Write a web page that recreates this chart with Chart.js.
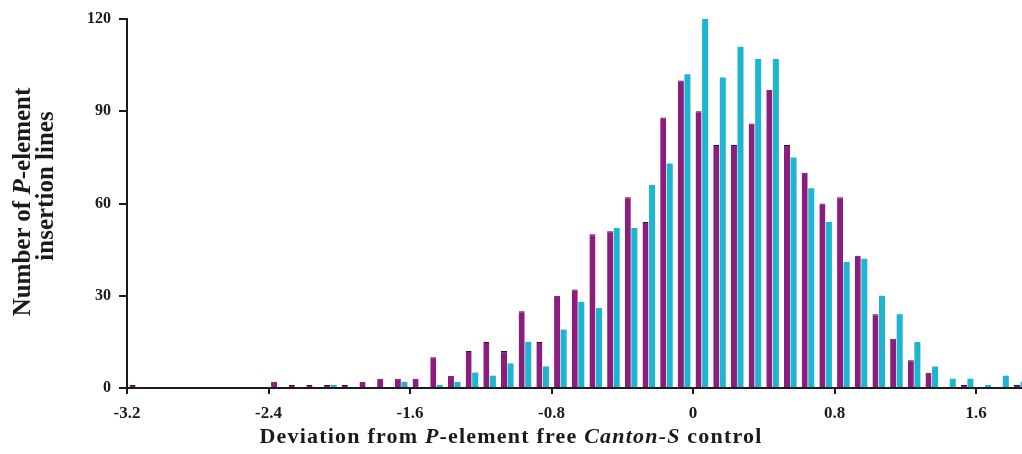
<!DOCTYPE html>
<html>
<head>
<meta charset="utf-8">
<script src="https://cdn.jsdelivr.net/npm/chart.js@4.4.1/dist/chart.umd.min.js"></script>
<style>
    html, body { margin: 0; padding: 0; background: #fff; }
    #wrap { position: relative; width: 1022px; height: 454px; overflow: hidden; }
    .ttl {
        position: absolute;
        font-family: "Liberation Serif", "Times New Roman", serif;
        font-weight: bold;
        color: #1a1a1a;
        white-space: nowrap;
    }
    #xTitle { left: 0; width: 1022px; top: 423px; text-align: center; font-size: 22px; letter-spacing: 1.2px; }
    .yLine { transform: translate(-50%, -50%) rotate(-90deg); font-size: 25px; }
    #yLine1 { left: 22px; top: 202px; }
    #yLine2 { left: 45px; top: 186px; }
</style>
</head>
<body>
<div id="wrap">
    <canvas id="histChart" width="1022" height="454"></canvas>
    <div class="ttl" id="xTitle">Deviation from <i>P</i>-element free <i>Canton-S</i> control</div>
    <div class="ttl yLine" id="yLine1">Number of <i>P</i>-element</div>
    <div class="ttl yLine" id="yLine2">insertion lines</div>
</div>

<script>
// bin centres (deviation), 0.1 wide
const binCenters = [
    -3.15, -3.05, -2.95, -2.85, -2.75, -2.65, -2.55, -2.45, -2.35, -2.25,
    -2.15, -2.05, -1.95, -1.85, -1.75, -1.65, -1.55, -1.45, -1.35, -1.25,
    -1.15, -1.05, -0.95, -0.85, -0.75, -0.65, -0.55, -0.45, -0.35, -0.25,
    -0.15, -0.05, 0.05, 0.15, 0.25, 0.35, 0.45, 0.55, 0.65, 0.75,
    0.85, 0.95, 1.05, 1.15, 1.25, 1.35, 1.45, 1.55, 1.65, 1.75,
    1.85
];

const purpleCounts = [
    1, 0, 0, 0, 0, 0, 0, 0, 2, 1,
    1, 1, 1, 2, 3, 3, 3, 10, 4, 12,
    15, 12, 25, 15, 30, 32, 50, 51, 62, 54,
    88, 100, 90, 79, 79, 86, 97, 79, 70, 60,
    62, 43, 24, 16, 9, 5, 0, 1, 0, 0,
    1
];

const cyanCounts = [
    0, 0, 0, 0, 0, 0, 0, 0, 0, 0,
    0, 1, 0, 0, 0, 2, 0, 1, 2, 5,
    4, 8, 15, 7, 19, 28, 26, 52, 52, 66,
    73, 102, 120, 101, 111, 107, 107, 75, 65, 54,
    41, 42, 30, 24, 15, 7, 3, 3, 1, 4,
    2
];

const xTickValues = [-3.2, -2.4, -1.6, -0.8, 0, 0.8, 1.6];
const xTickLabels = ['-3.2', '-2.4', '-1.6', '-0.8', '0', '0.8', '1.6'];
const yTickValues = [0, 30, 60, 90, 120];

const FONT = '"Liberation Serif", "Times New Roman", serif';
const AXIS = '#1a1a1a';

function toPoints(values) {
    return binCenters.map((x, i) => ({ x: x, y: values[i] }));
}

new Chart(document.getElementById('histChart'), {
    type: 'bar',
    data: {
        datasets: [{
            label: 'purple',
            data: toPoints(purpleCounts),
            backgroundColor: '#8c1c7d',
            borderColor: '#3e0a38',
            borderWidth: { top: 1, left: 0, right: 0, bottom: 0 },
            categoryPercentage: 0.74,
            barPercentage: 0.92
        }, {
            label: 'cyan',
            data: toPoints(cyanCounts),
            backgroundColor: '#1eb5d0',
            borderWidth: 0,
            categoryPercentage: 0.74,
            barPercentage: 0.92
        }]
    },
    options: {
        responsive: false,
        devicePixelRatio: 1,
        animation: false,
        layout: { padding: { top: 19, right: 0, bottom: 0, left: 0 } },
        plugins: {
            legend: { display: false },
            tooltip: { enabled: false }
        },
        scales: {
            x: {
                type: 'linear',
                min: -3.2,
                max: 1.86,
                offset: false,
                afterBuildTicks: (scale) => {
                    scale.ticks = xTickValues.map(v => ({ value: v }));
                },
                afterFit: (scale) => { scale.height = 66; },
                grid: {
                    drawOnChartArea: false,
                    drawTicks: true,
                    tickLength: 6,
                    color: AXIS,
                    lineWidth: 2,
                    offset: false
                },
                border: { display: true, color: AXIS, width: 2 },
                ticks: {
                    color: AXIS,
                    font: { family: FONT, size: 17, weight: 'bold' },
                    padding: 9,
                    maxRotation: 0,
                    autoSkip: false,
                    callback: (value, index) => xTickLabels[index]
                }
            },
            y: {
                min: 0,
                max: 120,
                afterBuildTicks: (scale) => {
                    scale.ticks = yTickValues.map(v => ({ value: v }));
                },
                afterFit: (scale) => { scale.width = 127; },
                grid: {
                    drawOnChartArea: false,
                    drawTicks: true,
                    tickLength: 8,
                    color: AXIS,
                    lineWidth: 2
                },
                border: { display: true, color: AXIS, width: 2 },
                ticks: {
                    color: AXIS,
                    font: { family: FONT, size: 16, weight: 'bold' },
                    padding: 8
                }
            }
        }
    }
});
</script>
</body>
</html>
